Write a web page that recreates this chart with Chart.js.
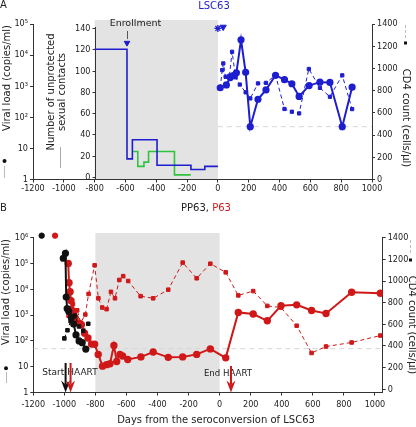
<!DOCTYPE html>
<html>
<head>
<meta charset="utf-8">
<script src="https://cdn.jsdelivr.net/npm/chart.js@4.4.0/dist/chart.umd.min.js"></script>
<style>
  html, body { margin: 0; padding: 0; background: #fff; }
  #wrap { position: relative; width: 416px; height: 427px; }
  canvas { position: absolute; left: 0; }
  #chartA { top: 0; }
  #chartB { top: 200px; }
</style>
</head>
<body>
<div id="wrap">
  <canvas id="chartA" width="416" height="200"></canvas>
  <canvas id="chartB" width="416" height="227"></canvas>
</div>
<script>
// ---- panel A : LSC63 ----
var aVlDays = [15, 55, 80, 100, 120, 150, 180, 210, 260, 312, 374, 432, 480, 527, 592, 662, 727, 807, 871];
var aVl = [890, 1100, 1900, 2200, 2700, 31000, 2800, 50, 380, 760, 2240, 1620, 1200, 470, 1050, 1350, 1320, 50, 930];
var aCd4Days = [15, 28, 35, 50, 75, 92, 115, 142, 180, 210, 260, 312, 374, 432, 480, 527, 590, 662, 727, 807, 871];
var aCd4 = [825, 985, 1045, 925, 935, 1150, 920, 855, 785, 730, 865, 870, 940, 635, 610, 595, 995, 825, 745, 938, 634];
var contactDays = [-800, -590, -555, -395, -175, -85, 0];
var contactsBlue = [120, 17, 35, 11, 7, 10, 10];
var greenDays = [-550, -520, -480, -450, -282, -176];
var contactsGreen = [24, 10, 14, 24, 2, 2];

// ---- panel B : PP63 (black), P63 (red) ----
var redVlDays = [-975, -970, -963, -957, -950, -942, -930, -910, -890, -870, -848, -825, -805, -782, -754, -728, -706, -681, -663, -642,
                 -625, -592, -507, -428, -331, -238, -148, -60, 39, 120, 216, 307, 395, 496, 592, 685, 850, 1035];
var redVl = [100000, 18000, 8000, 3600, 1500, 1300, 800, 500, 420, 200, 130, 75, 74, 30, 10.5, 12, 13, 67, 16, 30,
             26, 19, 24, 37, 23, 24, 30, 49, 22, 1270, 1100, 600, 2300, 2500, 1500, 1150, 7700, 7000];
var blackVlDays = [-1007, -993, -988, -982, -972, -955, -940, -925, -905, -885, -862];
var blackVl = [160000, 250000, 5000, 1800, 1400, 800, 450, 170, 100, 85, 48];
var redCd4Days = [-973, -955, -945, -938, -917, -895, -865, -844, -805, -781, -756, -728, -700, -674, -646, -621, -589, -509, -428, -331,
                  -238, -148, -60, 39, 120, 216, 307, 395, 496, 592, 685, 850, 1035];
var redCd4 = [680, 750, 785, 695, 730, 615, 690, 880, 1145, 840, 755, 740, 900, 840, 1010, 1045, 1000, 860, 840, 920,
              1170, 1025, 1160, 1080, 867, 907, 770, 755, 587, 335, 395, 432, 496];
var blackCd4Days = [-1000, -980, -960, -932, -906, -878, -846];
var blackCd4 = [470, 545, 630, 680, 580, 540, 605];
var redMarkDays = [-431, 120, 388, 1043];

var dayTicks = [-1200, -1000, -800, -600, -400, -200, 0, 200, 400, 600, 800, 1000];
var cd4Ticks = [0, 200, 400, 600, 800, 1000, 1200, 1400];
var contactTicks = [0, 20, 40, 60, 80, 100, 120, 140];
var logLabels = {1: '1', 10: '10', 100: '10²', 1000: '10³', 10000: '10⁴', 100000: '10⁵', 1000000: '10⁶'};

var blue = '#1e1ed0', green = '#2fc43c', red = '#d01818', shade = '#e3e3e3', axisCol = '#333';
var titleFont = '10px "DejaVu Sans", sans-serif';
var tickFont = '9px "DejaVu Sans Condensed", "DejaVu Sans", sans-serif';

Chart.defaults.font.family = '"DejaVu Sans Condensed", "DejaVu Sans", sans-serif';
Chart.defaults.font.size = 9;
Chart.defaults.color = '#222';

function pts(xs, ys) { return xs.map(function (x, i) { return {x: x, y: ys[i]}; }); }
function setTicks(vals) { return function (s) { s.ticks = vals.map(function (v) { return {value: v}; }); }; }
function fixW(w) { return function (s) { s.width = w; }; }
function fixH(h) { return function (s) { s.height = h; }; }
function plain(v) { return String(v); }

function txt(ctx, s, x, y, o) {
  o = o || {};
  ctx.save();
  ctx.font = o.font || titleFont;
  ctx.fillStyle = o.color || '#222';
  ctx.textAlign = o.align || 'center';
  ctx.textBaseline = 'middle';
  ctx.translate(x, y);
  if (o.rot) ctx.rotate(o.rot);
  ctx.fillText(s, 0, 0);
  ctx.restore();
}
function vline(ctx, x, y1, y2, col, dash) {
  ctx.save();
  ctx.strokeStyle = col; ctx.lineWidth = 1;
  if (dash) ctx.setLineDash(dash);
  ctx.beginPath(); ctx.moveTo(x, y1); ctx.lineTo(x, y2); ctx.stroke();
  ctx.restore();
}
function arrow(ctx, x, y1, y2, col) {
  ctx.save();
  ctx.strokeStyle = col; ctx.fillStyle = col; ctx.lineWidth = 2;
  ctx.beginPath(); ctx.moveTo(x, y1); ctx.lineTo(x, y2 - 8); ctx.stroke();
  ctx.beginPath(); ctx.moveTo(x - 4.5, y2 - 12); ctx.lineTo(x, y2 - 8); ctx.lineTo(x + 4.5, y2 - 12); ctx.lineTo(x, y2); ctx.closePath(); ctx.fill();
  ctx.restore();
}
function dot(ctx, x, y) { ctx.save(); ctx.fillStyle = '#111'; ctx.beginPath(); ctx.arc(x, y, 2, 0, Math.PI * 2); ctx.fill(); ctx.restore(); }
function sq(ctx, x, y) { ctx.save(); ctx.fillStyle = '#111'; ctx.fillRect(x - 1.5, y - 1.5, 3, 3); ctx.restore(); }
function shadeRegion(chart, extra) {
  var ctx = chart.ctx, a = chart.chartArea, x = chart.scales.x;
  var x0 = x.getPixelForValue(-800), x1 = x.getPixelForValue(0);
  ctx.save(); ctx.fillStyle = shade;
  ctx.fillRect(x0, a.top - extra, x1 - x0, a.bottom - a.top + extra - 0.5);
  ctx.restore();
}

function axisOpts(extra) {
  var o = {
    border: {color: axisCol, width: 1},
    grid: {drawOnChartArea: false, tickLength: 3, color: axisCol},
    ticks: {padding: 2, color: '#222', callback: plain}
  };
  for (var k in extra) o[k] = extra[k];
  return o;
}

// ---------------- panel A ----------------
var panelA = {
  id: 'panelA',
  beforeDraw: function (chart) { shadeRegion(chart, 4); },
  beforeDatasetsDraw: function (chart) {
    var ctx = chart.ctx, a = chart.chartArea, yc = chart.scales.yc;
    var ax = Math.round(chart.scales.x.getPixelForValue(-800)) + 0.5;
    vline(ctx, ax, yc.getPixelForValue(141), a.bottom, axisCol);
    ctx.save();
    ctx.strokeStyle = axisCol; ctx.lineWidth = 1;
    contactTicks.forEach(function (v) {
      var py = Math.round(yc.getPixelForValue(v)) + 0.5;
      ctx.beginPath(); ctx.moveTo(ax - 3, py); ctx.lineTo(ax, py); ctx.stroke();
      txt(ctx, String(v), ax - 5, py, {font: tickFont, align: 'right'});
    });
    ctx.restore();
  },
  afterDraw: function (chart) {
    var ctx = chart.ctx, x = chart.scales.x;
    txt(ctx, 'A', 0, 5, {align: 'left'});
    txt(ctx, 'LSC63', 214, 6, {color: blue});
    txt(ctx, 'Viral load (copies/ml)', 7, 78, {rot: -Math.PI / 2});
    dot(ctx, 4.5, 161);
    vline(ctx, 4.5, 166, 178, '#bbb');
    txt(ctx, 'Number of unprotected', 51.5, 92, {rot: -Math.PI / 2});
    txt(ctx, 'sexual contacts', 62, 92, {rot: -Math.PI / 2});
    vline(ctx, 60.5, 147, 168, '#aaa');
    txt(ctx, 'CD4 count (cells/µl)', 406, 118, {rot: Math.PI / 2});
    vline(ctx, 405.5, 25, 38, '#bbb', [3, 2]);
    sq(ctx, 405.5, 43);
    txt(ctx, 'Enrollment', x.getPixelForValue(-535), 24, {font: '9.5px "DejaVu Sans"'});
    vline(ctx, Math.round(x.getPixelForValue(-590)) + 0.5, 31, 39, '#555');
  }
};

new Chart(document.getElementById('chartA'), {
  type: 'line',
  data: {
    datasets: [
      {data: pts(aVlDays, aVl), yAxisID: 'y', borderColor: blue, backgroundColor: blue, borderWidth: 2,
       pointRadius: 2.6, pointStyle: 'circle'},
      {data: pts(aCd4Days, aCd4), yAxisID: 'yr', borderColor: blue, backgroundColor: blue, borderWidth: 1,
       borderDash: [4, 3], pointRadius: 2.3, pointStyle: 'rect'},
      {data: pts(contactDays, contactsBlue), yAxisID: 'yc', borderColor: blue, borderWidth: 1.6, pointRadius: 0, stepped: 'before'},
      {data: pts(greenDays, contactsGreen), yAxisID: 'yc', borderColor: green, borderWidth: 1.6, pointRadius: 0, stepped: 'before'},
      {data: [{x: -590, y: 126}], yAxisID: 'yc', showLine: false, pointStyle: 'triangle', rotation: 180,
       pointRadius: 3.2, backgroundColor: blue, borderColor: blue, clip: false},
      {data: [{x: 0, y: 72000}], yAxisID: 'y', showLine: false, pointStyle: 'star', pointRadius: 3.5,
       borderColor: blue, backgroundColor: blue, pointBorderWidth: 1.3, clip: false},
      {data: [{x: 34, y: 80000}], yAxisID: 'y', showLine: false, pointStyle: 'triangle', rotation: 180,
       pointRadius: 3.6, backgroundColor: blue, borderColor: blue, clip: false},
      {data: [{x: 0, y: 50}, {x: 1000, y: 50}], yAxisID: 'y', borderColor: '#d6d6d6', borderDash: [5, 4],
       borderWidth: 1, pointRadius: 0}
    ]
  },
  options: {
    responsive: false, animation: false, devicePixelRatio: 1,
    layout: {padding: {top: 24, left: 0, right: 0, bottom: 0}},
    plugins: {legend: {display: false}, tooltip: {enabled: false}},
    scales: {
      x: axisOpts({type: 'linear', position: 'bottom', min: -1200, max: 1000,
        afterBuildTicks: setTicks(dayTicks), afterFit: fixH(20.5),
        ticks: {padding: 1, color: '#222', autoSkip: false, maxRotation: 0, callback: plain}}),
      y: axisOpts({type: 'logarithmic', position: 'left', min: 1, max: 100000,
        afterBuildTicks: setTicks([1, 10, 100, 1000, 10000, 100000]), afterFit: fixW(33),
        ticks: {padding: 2, color: '#222', callback: function (v) { return logLabels[v]; }}}),
      yr: axisOpts({type: 'linear', position: 'right', min: 0, max: 1400,
        afterBuildTicks: setTicks(cd4Ticks), afterFit: fixW(44)}),
      yc: {type: 'linear', display: false, min: -2.35, max: 143.8}
    }
  },
  plugins: [panelA]
});

// ---------------- panel B ----------------
var panelB = {
  id: 'panelB',
  beforeDraw: function (chart) { shadeRegion(chart, 4.7); },
  afterDraw: function (chart) {
    var ctx = chart.ctx, x = chart.scales.x, a = chart.chartArea;
    txt(ctx, 'B', 0, 8.5, {align: 'left'});
    ctx.save(); ctx.font = titleFont;
    var w1 = ctx.measureText('PP63, ').width, w2 = ctx.measureText('P63').width;
    ctx.restore();
    var sx = 206 - (w1 + w2) / 2;
    txt(ctx, 'PP63, ', sx, 8.5, {align: 'left'});
    txt(ctx, 'P63', sx + w1, 8.5, {align: 'left', color: red});
    txt(ctx, 'Viral load (copies/ml)', 6, 92, {rot: -Math.PI / 2});
    dot(ctx, 6, 168.3);
    vline(ctx, 6.5, 172, 183, '#bbb');
    txt(ctx, 'CD4 count (cells/µl)', 411.5, 125, {rot: Math.PI / 2});
    vline(ctx, 410.5, 40, 54, '#bbb', [3, 2]);
    sq(ctx, 410.5, 60);
    txt(ctx, 'Days from the seroconversion of LSC63', 216, 220.5);
    txt(ctx, 'Start HAART', 70, 172.7, {font: '9px "DejaVu Sans"'});
    txt(ctx, 'End HAART', 228, 173.3, {font: '8.6px "DejaVu Sans"'});
    arrow(ctx, x.getPixelForValue(-992), 163, a.bottom, '#111');
    arrow(ctx, x.getPixelForValue(-960), 163, a.bottom, red);
    arrow(ctx, x.getPixelForValue(73), 166, a.bottom, red);
  }
};

function marks(points, style, col, r, extra) {
  var d = {data: points, yAxisID: 'y', showLine: false, pointStyle: style, pointRadius: r,
           backgroundColor: col, borderColor: col, clip: false};
  for (var k in extra) d[k] = extra[k];
  return d;
}

new Chart(document.getElementById('chartB'), {
  type: 'line',
  data: {
    datasets: [
      {data: pts(blackVlDays, blackVl), yAxisID: 'y', borderColor: '#111', backgroundColor: '#111', borderWidth: 2,
       pointRadius: 2.6, pointStyle: 'circle'},
      {data: pts(blackCd4Days, blackCd4), yAxisID: 'yr', borderColor: '#111', backgroundColor: '#111', borderWidth: 1,
       borderDash: [4, 3], pointRadius: 2.5, pointStyle: 'rect'},
      {data: pts(redVlDays, redVl), yAxisID: 'y', borderColor: red, backgroundColor: red, borderWidth: 2,
       pointRadius: 2.7, pointStyle: 'circle'},
      {data: pts(redCd4Days, redCd4), yAxisID: 'yr', borderColor: red, backgroundColor: red, borderWidth: 1,
       borderDash: [4, 3], pointRadius: 2.5, pointStyle: 'rect'},
      marks([{x: -1146, y: 1200000}], 'circle', '#111', 2.7),
      marks([{x: -1060, y: 1200000}], 'circle', red, 2.7),
      marks([{x: -1146, y: 2100000}], 'line', '#555', 3, {rotation: 90}),
      marks([{x: -1060, y: 2100000}], 'line', red, 3, {rotation: 90}),
      marks([{x: -1017, y: 4200000}], 'star', '#111', 3.2, {pointBorderWidth: 1.2}),
      marks([{x: -996, y: 3700000}], 'triangle', '#fff', 4, {rotation: 180, borderColor: '#111', pointBorderWidth: 1.3}),
      marks([{x: -979, y: 4600000}], 'star', red, 3.2, {pointBorderWidth: 1.2}),
      marks([{x: -964, y: 2200000}], 'triangle', red, 3, {rotation: 180}),
      marks(redMarkDays.map(function (d) { return {x: d, y: 1800000}; }), 'triangle', red, 3.3, {rotation: 180}),
      marks([{x: -127, y: 1800000}], 'triangle', red, 5, {rotation: 180}),
      {data: [{x: -1200, y: 50}, {x: 1050, y: 50}], yAxisID: 'y', borderColor: '#d6d6d6', borderDash: [5, 4],
       borderWidth: 1, pointRadius: 0}
    ]
  },
  options: {
    responsive: false, animation: false, devicePixelRatio: 1,
    layout: {padding: {top: 37.7, left: 0, right: 0, bottom: 0}},
    plugins: {legend: {display: false}, tooltip: {enabled: false}},
    scales: {
      x: axisOpts({type: 'linear', position: 'bottom', min: -1200, max: 1050,
        afterBuildTicks: setTicks(dayTicks), afterFit: fixH(34.5),
        ticks: {padding: 4, color: '#222', autoSkip: false, maxRotation: 0, callback: plain}}),
      y: axisOpts({type: 'logarithmic', position: 'left', min: 1, max: 1000000,
        afterBuildTicks: setTicks([1, 10, 100, 1000, 10000, 100000, 1000000]), afterFit: fixW(33.3),
        ticks: {padding: 2, color: '#222', callback: function (v) { return logLabels[v]; }}}),
      yr: axisOpts({type: 'linear', position: 'right', min: -30, max: 1400,
        afterBuildTicks: setTicks(cd4Ticks), afterFit: fixW(33.3)})
    }
  },
  plugins: [panelB]
});
</script>
</body>
</html>
